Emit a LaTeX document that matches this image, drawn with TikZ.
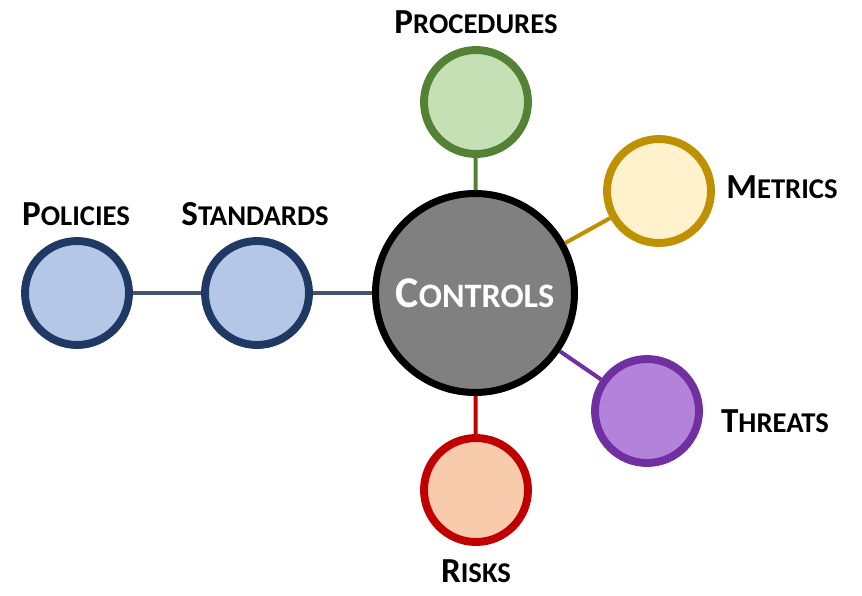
\documentclass[tikz,border=0pt]{standalone}
\usepackage{fontspec}
\setmainfont{Carlito}
\usepackage{tikz}
\usetikzlibrary{shapes.geometric}
\definecolor{navyline}{HTML}{203864}
\definecolor{navyfill}{HTML}{B4C7E7}
\definecolor{slateline}{HTML}{44546A}
\definecolor{greenline}{HTML}{548235}
\definecolor{greenfill}{HTML}{C5E0B4}
\definecolor{goldline}{HTML}{BF9000}
\definecolor{goldfill}{HTML}{FFF2CC}
\definecolor{purpleline}{HTML}{7030A0}
\definecolor{purplefill}{HTML}{B383DB}
\definecolor{redline}{HTML}{C00000}
\definecolor{redfill}{HTML}{F8CBAD}
\tikzstyle{topic} = [circle, line width=4.5pt, minimum size=2.08cm, inner sep=0pt]
\tikzstyle{hub} = [circle, draw=black, fill=gray, line width=4pt, minimum size=3.98cm, inner sep=0pt]
\tikzstyle{link} = [line width=2.3pt]
\tikzstyle{tag} = [font=\bfseries, text=black, inner sep=0pt, anchor=base]
\newcommand{\sclabel}[2]{{\fontsize{20}{21}\selectfont #1}{\fontsize{16.3}{17}\selectfont #2}}

\begin{document}
\begin{tikzpicture}[x=0.02cm, y=-0.02cm]
    \useasboundingbox (0,0) rectangle (862,595);
    % centre
    \node[hub] (controls) at (475,293) {};
    \node[text=white, font=\bfseries, inner sep=0pt] at (controls.center)
        {{\fontsize{25}{26}\selectfont C}{\fontsize{19.5}{20}\selectfont ONTROLS}};
    % surrounding circles
    \node[topic, draw=navyline, fill=navyfill] (policies) at (77,293) {};
    \node[topic, draw=navyline, fill=navyfill] (standards) at (257,293) {};
    \node[topic, draw=greenline, fill=greenfill] (procedures) at (476,102) {};
    \node[topic, draw=goldline, fill=goldfill] (metrics) at (659,191) {};
    \node[topic, draw=purpleline, fill=purplefill] (threats) at (647,411) {};
    \node[topic, draw=redline, fill=redfill] (risks) at (476,490) {};
    % links
    \draw[link, slateline] (policies) -- (standards);
    \draw[link, slateline] (standards) -- (controls);
    \draw[link, greenline] (procedures) -- (controls);
    \draw[link, goldline] (metrics) -- (controls);
    \draw[link, purpleline] (threats) -- (controls);
    \draw[link, redline] (risks) -- (controls);
    % labels
    \node[tag] (policiestag) at (76,225) {\sclabel{P}{OLICIES}};
    \node[tag] (standardstag) at (255,225) {\sclabel{S}{TANDARDS}};
    \node[tag] (procedurestag) at (476,33) {\sclabel{P}{ROCEDURES}};
    \node[tag] (metricstag) at (782,198) {\sclabel{M}{ETRICS}};
    \node[tag] (threatstag) at (775,432) {\sclabel{T}{HREATS}};
    \node[tag] (riskstag) at (476,582) {\sclabel{R}{ISKS}};
\end{tikzpicture}
\end{document}
